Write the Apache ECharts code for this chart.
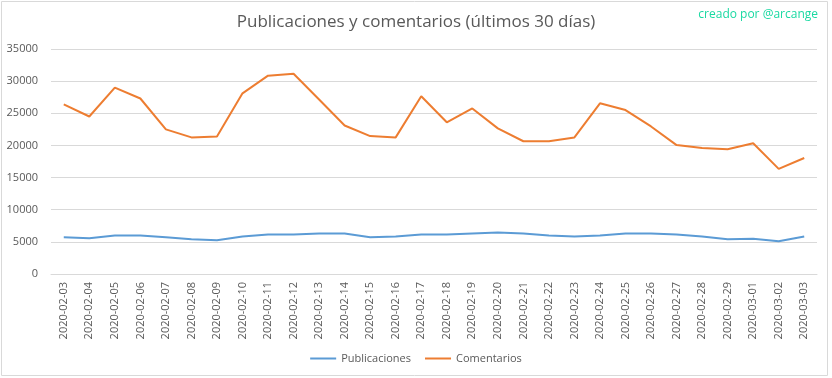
<!DOCTYPE html>
<html>
<head>
<meta charset="utf-8">
<script src="https://cdn.jsdelivr.net/npm/echarts@6/dist/echarts.min.js"></script>
<style>html,body{margin:0;padding:0;background:#fff}#c{width:832px;height:378px}</style>
</head>
<body>
<div id="c"></div>
<script>
const categories = ["2020-02-03","2020-02-04","2020-02-05","2020-02-06","2020-02-07","2020-02-08","2020-02-09","2020-02-10","2020-02-11","2020-02-12","2020-02-13","2020-02-14","2020-02-15","2020-02-16","2020-02-17","2020-02-18","2020-02-19","2020-02-20","2020-02-21","2020-02-22","2020-02-23","2020-02-24","2020-02-25","2020-02-26","2020-02-27","2020-02-28","2020-02-29","2020-03-01","2020-03-02","2020-03-03"];
const publicaciones = [5700,5550,6000,6000,5700,5400,5250,5850,6150,6150,6300,6300,5700,5850,6150,6150,6300,6450,6300,6000,5850,6000,6300,6300,6150,5850,5400,5500,5100,5850];
const comentarios = [26400,24500,29000,27300,22500,21250,21400,28100,30850,31150,27150,23100,21450,21250,27650,23600,25750,22650,20650,20650,21250,26550,25500,22950,20050,19600,19400,20350,16350,18050];
const yTicks = [0,5000,10000,15000,20000,25000,30000,35000];

const chart = echarts.init(document.getElementById('c'));
const font = 'Open Sans, Noto Sans, sans-serif';
chart.setOption({
  animation: false,
  textStyle: { fontFamily: font },
  title: {
    text: 'Publicaciones y comentarios (últimos 30 días)',
    left: 'center', top: 9,
    textStyle: { fontSize: 17, fontWeight: 'normal', color: '#595959', fontFamily: font }
  },
  graphic: [
    { type: 'rect', shape: { x: 1.5, y: 1.5, width: 826, height: 374 }, style: { fill: 'none', stroke: '#d9d9d9', lineWidth: 1 }, z: -1 },
    { type: 'text', right: 14, top: 9, style: { text: 'creado por @arcange', fill: '#1ad9a2', fontSize: 12, fontFamily: font } }
  ],
  legend: {
    bottom: 9, left: 'center', itemWidth: 26, itemHeight: 2, itemGap: 14,
    icon: 'rect',
    textStyle: { fontSize: 11, color: '#595959', fontFamily: font },
    data: ['Publicaciones', 'Comentarios']
  },
  grid: { left: 51, right: 15, top: 49, bottom: 104 },
  xAxis: {
    type: 'category', data: categories, boundaryGap: true,
    axisLine: { lineStyle: { color: '#d9d9d9' } },
    axisTick: { show: false },
    axisLabel: { rotate: 90, fontSize: 11, color: '#595959', margin: 8, interval: 0 }
  },
  yAxis: {
    type: 'value', min: 0, max: 35000, interval: 5000,
    axisLine: { show: false }, axisTick: { show: false },
    splitLine: { lineStyle: { color: '#d9d9d9' } },
    axisLabel: { fontSize: 11, color: '#595959', margin: 13, formatter: v => yTicks.includes(v) ? String(v) : '' }
  },
  series: [
    { name: 'Publicaciones', type: 'line', data: publicaciones, symbol: 'none', lineStyle: { color: '#5b9bd5', width: 2 }, itemStyle: { color: '#5b9bd5' } },
    { name: 'Comentarios', type: 'line', data: comentarios, symbol: 'none', lineStyle: { color: '#ed7d31', width: 2 }, itemStyle: { color: '#ed7d31' } }
  ]
});
</script>
</body>
</html>
